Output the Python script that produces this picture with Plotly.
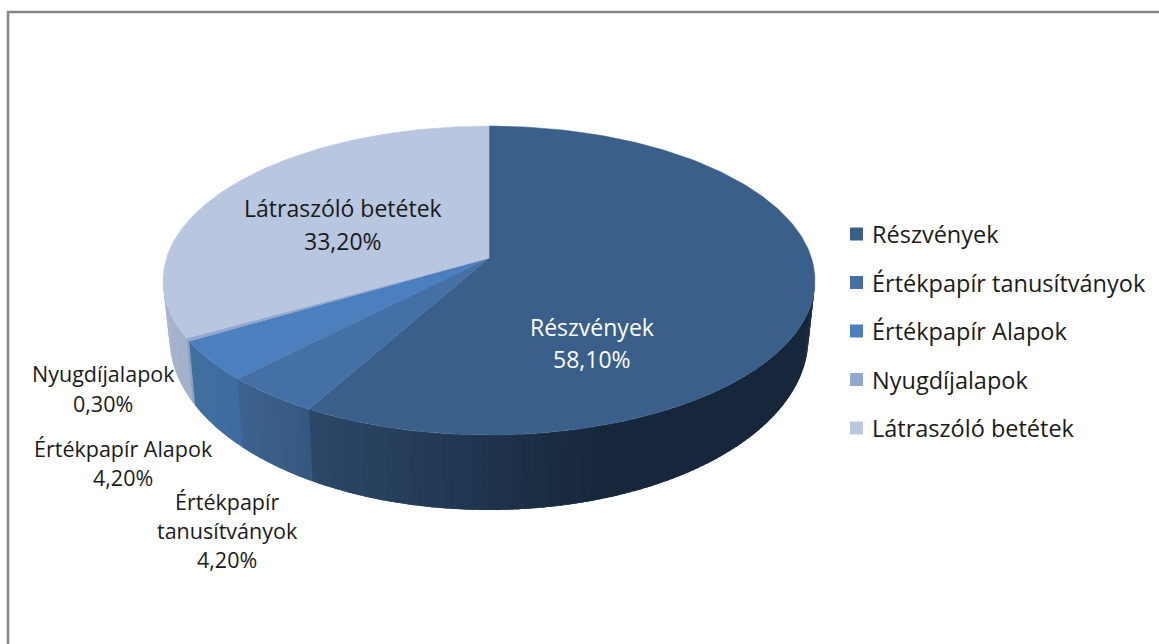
import math
import plotly.graph_objects as go

categories = ["Részvények", "Értékpapír tanusítványok", "Értékpapír Alapok", "Nyugdíjalapok", "Látraszóló betétek"]
values = [58.1, 4.2, 4.2, 0.3, 33.2]
top_colors = ["#3A5F8B", "#4470A5", "#4B7FBD", "#92A7CE", "#B9C6DF"]
side_left = ["#2C4868", "#3D628F", "#41709F", "#8FA0C0", "#A6B3CC"]
side_right = ["#17273B", "#36587F", "#3F6BA0", "#8FA0C0", "#A3B0C9"]
legend_colors = top_colors
FONT = "Open Sans"
FS = 23
FS_LEG = 23.5
FS_OUT = 21.5
TXT = "#1a1a1a"

CX, CY, A, B, K = 489.0, 258.0, 151.2, 322.5, 0.1457


def top(theta):
    u, v = math.sin(theta), math.cos(theta)
    w = 1 + K * v
    return CX + B * u / w, CY - A * v / w


def bottom(theta):
    x, y = top(theta)
    return CX + (x - CX) * 0.98, y + 75 + 0.115 * (y - 435)


def mix(c1, c2, t):
    a = [int(c1[i:i + 2], 16) for i in (1, 3, 5)]
    b = [int(c2[i:i + 2], 16) for i in (1, 3, 5)]
    return "rgb(%d,%d,%d)" % tuple(round(p + (q - p) * t) for p, q in zip(a, b))


fig = go.Figure()

# sides: drawn left to right, each strip overlapped by the next one
vis0, vis1 = math.radians(98.4), math.radians(261.6)
start = 0.0
bounds = []
for val in values:
    end = start + val / sum(values) * 2 * math.pi
    bounds.append((start, end))
    start = end

for i, (s, e) in reversed(list(enumerate(bounds))):
    a0, a1 = max(s, vis0), min(e, vis1)
    if a1 <= a0:
        continue
    xa, xb = top(a1)[0], top(a0)[0]
    n = max(2, int(math.degrees(a1 - a0) / 1.0))
    for j in range(n - 1, -1, -1):
        t0 = a0 + (a1 - a0) * j / n
        t1 = a0 + (a1 - a0) * (j + 1) / n
        t0x = max(vis0, t0 - math.radians(0.8)) if j > 0 or i > 0 else t0
        arc = [t0x, t0, (t0 + t1) / 2, t1]
        p = [top(t) for t in arc] + [bottom(t) for t in reversed(arc)]
        p.append(p[0])
        xm = (top(t0)[0] + top(t1)[0]) / 2
        if i == 0:
            frac = min(1.0, max(0.0, (xm - 310) / 290))
        else:
            frac = (xm - xa) / (xb - xa) if xb != xa else 0
        col = mix(side_left[i], side_right[i], frac)
        fig.add_trace(go.Scatter(x=[q[0] for q in p], y=[q[1] for q in p], mode="none",
                                 fill="toself", fillcolor=col,
                                 hoverinfo="skip", showlegend=False))

# top faces
for i, (s, e) in enumerate(bounds):
    n = max(3, int(math.degrees(e - s)))
    pts = [top(s + (e - s) * j / n) for j in range(n + 1)]
    xs = [CX] + [q[0] for q in pts] + [CX]
    ys = [CY] + [q[1] for q in pts] + [CY]
    fig.add_trace(go.Scatter(x=xs, y=ys, mode="lines", fill="toself", fillcolor=top_colors[i],
                             line=dict(color=top_colors[i], width=0.5), name=categories[i],
                             hoverinfo="name", showlegend=False))

# legend
leg_y = [234, 282.5, 331, 379.5, 428]
fig.add_trace(go.Scatter(x=[856.5] * 5, y=leg_y, mode="markers",
                         marker=dict(symbol="square", size=13, color=legend_colors, line=dict(width=0)),
                         hoverinfo="skip", showlegend=False))
annotations = []
for name, y in zip(categories, leg_y):
    annotations.append(dict(x=869.5, y=y, text=name, xanchor="left", showarrow=False,
                            font=dict(family=FONT, size=FS_LEG, color=TXT)))


def pct(v):
    return f"{v:.2f}".replace(".", ",") + "%"


label_lines = [
    (592, [327, 359], ["Részvények", pct(values[0])], "#FFFFFF", FS),
    (343, [208, 241], ["Látraszóló betétek", pct(values[4])], TXT, FS),
    (103, [373, 403], ["Nyugdíjalapok", pct(values[3])], TXT, FS_OUT),
    (123, [448, 477], ["Értékpapír Alapok", pct(values[2])], TXT, FS_OUT),
    (227, [501, 530, 559], ["Értékpapír", "tanusítványok", pct(values[1])], TXT, FS_OUT),
]
for x, ys, lines, col, size in label_lines:
    for y, line in zip(ys, lines):
        annotations.append(dict(x=x, y=y, text=line, showarrow=False,
                                font=dict(family=FONT, size=size, color=col)))

shapes = [
    dict(type="line", x0=7, x1=1159, y0=12, y1=12, line=dict(color="#868686", width=2.5)),
    dict(type="line", x0=8, x1=8, y0=11, y1=644, line=dict(color="#868686", width=2.5)),
]

fig.update_layout(
    width=1159, height=644, margin=dict(l=0, r=0, t=0, b=0),
    paper_bgcolor="white", plot_bgcolor="white", showlegend=False,
    xaxis=dict(range=[0, 1159], visible=False, fixedrange=True),
    yaxis=dict(range=[644, 0], visible=False, fixedrange=True),
    annotations=annotations, shapes=shapes,
)
fig.write_html("out.html", config={"displayModeBar": False},
               post_script="document.body.style.margin='0';document.documentElement.style.overflow='hidden';")
